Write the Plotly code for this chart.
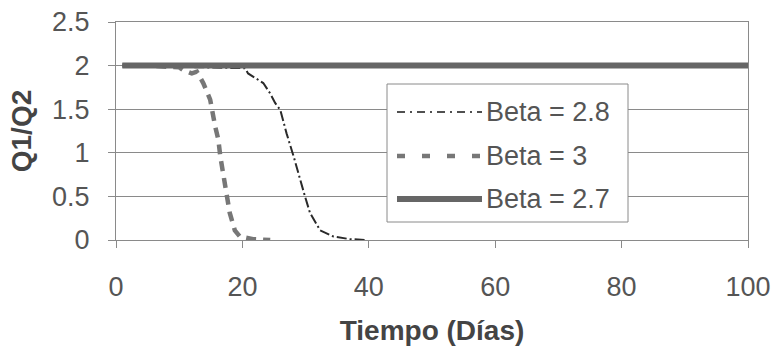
import plotly.graph_objects as go

# ---- data ----
beta28_x = [1, 10, 20.4, 20.9, 22.3, 23.3, 24.4, 25.2, 26.0, 27.0, 28.1, 29.1, 29.9, 30.7, 32.3, 34.4, 37.0, 39.7]
beta28_y = [2, 1.99, 1.97, 1.91, 1.85, 1.80, 1.68, 1.57, 1.49, 1.22, 0.96, 0.69, 0.50, 0.31, 0.11, 0.04, 0.01, 0.0]

beta3_x = [1, 5, 10, 10.6, 12.0, 12.8, 13.8, 14.9, 15.7, 16.2, 16.5, 17.0, 17.4, 18.0, 18.8, 19.6, 21.7, 24.4]
beta3_y = [2, 2, 1.98, 1.95, 1.91, 1.93, 1.80, 1.61, 1.30, 1.15, 0.96, 0.76, 0.54, 0.31, 0.11, 0.04, 0.01, 0.0]

beta27_x = [1, 100]
beta27_y = [2, 2]

series_names = ["Beta = 2.8", "Beta = 3", "Beta = 2.7"]
x_ticks = [0, 20, 40, 60, 80, 100]
y_ticks = [0, 0.5, 1, 1.5, 2, 2.5]
y_tick_text = ["0", "0.5", "1", "1.5", "2", "2.5"]

# ---- styles ----
W, H = 775, 346
ML, MR, MT, MB = 116, 27, 22, 106
FONT = "Liberation Sans, Arial, sans-serif"
GRID = "#8a8a8a"
styles = [
    dict(color="#2a2a2a", width=2, dash="10px,3px,2px,3px"),
    dict(color="#777777", width=4.5, dash="10px,7px"),
    dict(color="#666666", width=6, dash="solid"),
]
legend_dash = ["8px,5px,2px,5px", "8px,17px", "solid"]

fig = go.Figure()
for xs, ys, name, st in [(beta28_x, beta28_y, series_names[0], styles[0]),
                         (beta3_x, beta3_y, series_names[1], styles[1]),
                         (beta27_x, beta27_y, series_names[2], styles[2])]:
    fig.add_trace(go.Scatter(x=xs, y=ys, mode="lines", name=name,
                             line=st, showlegend=False))

pw = W - ML - MR
ph = H - MT - MB
def px_x(p):
    return (p - ML) / pw
def px_y(p):
    return (H - MB - p) / ph

shapes = []
annotations = []
# legend box
shapes.append(dict(type="rect", xref="paper", yref="paper",
                   x0=px_x(387), x1=px_x(628), y0=px_y(222), y1=px_y(84),
                   line=dict(color="#8a8a8a", width=1), fillcolor="white", layer="above"))
rows = [112, 156, 199]
for i, name in enumerate(series_names):
    st = styles[i]
    shapes.append(dict(type="line", xref="paper", yref="paper",
                       x0=px_x(397), x1=px_x(482), y0=px_y(rows[i]), y1=px_y(rows[i]),
                       line=dict(color=st["color"] if i else "#505050", width=st["width"] if i != 0 else 2,
                                 dash=legend_dash[i]), layer="above"))
    annotations.append(dict(xref="paper", yref="paper", x=px_x(484), y=px_y(rows[i]),
                            text=name, showarrow=False, xanchor="left", yanchor="middle",
                            font=dict(family=FONT, size=27, color="#555555")))

fig.update_layout(
    width=W, height=H,
    margin=dict(l=ML, r=MR, t=MT, b=MB, autoexpand=False),
    paper_bgcolor="white", plot_bgcolor="white",
    shapes=shapes, annotations=annotations,
    showlegend=False,
)
fig.update_xaxes(range=[0, 100], tickvals=x_ticks, ticks="outside", ticklen=7,
                 tickcolor=GRID, showgrid=False, zeroline=False, automargin=False,
                 showline=True, linecolor=GRID, linewidth=1, mirror=True,
                 ticklabelstandoff=16,
                 tickfont=dict(family=FONT, size=27, color="#555555"),
                 title=dict(text="<b>Tiempo (Días)</b>", standoff=18,
                            font=dict(family=FONT, size=28, color="#444444")))
fig.update_yaxes(range=[0, 2.5], tickvals=y_ticks, ticktext=y_tick_text,
                 ticks="outside", ticklen=7, tickcolor=GRID, automargin=False,
                 showgrid=True, gridcolor=GRID, gridwidth=1, zeroline=False,
                 showline=True, linecolor=GRID, linewidth=1, mirror=True,
                 ticklabelstandoff=13,
                 tickfont=dict(family=FONT, size=27, color="#555555"),
                 title=dict(text="<b>Q1/Q2</b>", standoff=12,
                            font=dict(family=FONT, size=28, color="#444444")))

fig.write_html("out.html")
